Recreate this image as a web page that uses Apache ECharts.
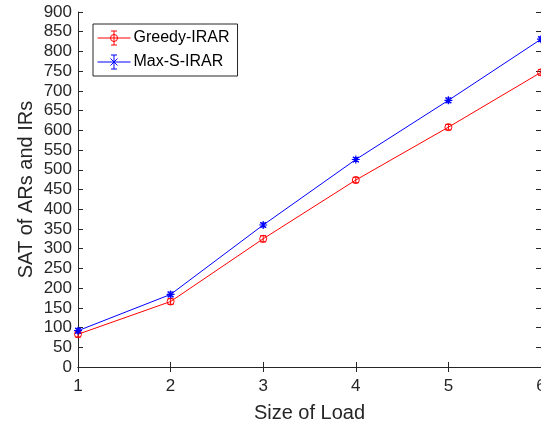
<!DOCTYPE html>
<html>
<head>
<meta charset="utf-8">
<script src="https://cdn.jsdelivr.net/npm/echarts@6/dist/echarts.min.js"></script>
<style>
  html, body { margin: 0; padding: 0; background: #fff; }
  #chart { width: 541px; height: 425px; }
</style>
</head>
<body>
<div id="chart"></div>
<script>
// Load sizes on the x axis
const loadSizes = [1, 2, 3, 4, 5, 6];
// Mean SAT of ARs and IRs per load size
const greedyIRAR = [83, 166, 325, 474, 608, 747];
const maxSIRAR = [92, 184, 360, 526, 676, 831];
// Half-width of the error bars
const greedyErr = [7, 7, 8, 7, 7, 7];
const maxSErr = [6, 6, 5, 5, 6, 6];
// Y tick range
const yTicks = { min: 0, max: 900, step: 50 };

const FONT = '"Liberation Sans", Arial, Helvetica, sans-serif';
const AX = '#262626';

const chart = echarts.init(document.getElementById('chart'), null, { renderer: 'canvas' });

function pairs(vals) { return loadSizes.map((x, i) => [x, vals[i]]); }
function errData(vals, err) { return loadSizes.map((x, i) => [x, vals[i] - err[i], vals[i] + err[i]]); }

function errorBarSeries(name, vals, err, color) {
  return {
    type: 'custom',
    name: name,
    data: errData(vals, err),
    z: 3,
    silent: true,
    renderItem: function (params, api) {
      const lo = api.coord([api.value(0), api.value(1)]);
      const hi = api.coord([api.value(0), api.value(2)]);
      const cap = 3;
      const st = { stroke: color, lineWidth: 1, fill: null };
      return {
        type: 'group',
        children: [
          { type: 'line', shape: { x1: lo[0], y1: lo[1], x2: hi[0], y2: hi[1] }, style: st },
          { type: 'line', shape: { x1: lo[0] - cap, y1: lo[1], x2: lo[0] + cap, y2: lo[1] }, style: st },
          { type: 'line', shape: { x1: hi[0] - cap, y1: hi[1], x2: hi[0] + cap, y2: hi[1] }, style: st }
        ]
      };
    }
  };
}

// legend glyphs: line + error bar + marker
const iconCircle = 'path://M0,7 L33,7 M16.5,0 L16.5,14 M13.5,0 L19.5,0 M13.5,14 L19.5,14 M20,7 A3.5,3.5 0 1,1 13,7 A3.5,3.5 0 1,1 20,7';
const iconStar = 'path://M0,7 L33,7 M16.5,0 L16.5,14 M13.5,0 L19.5,0 M13.5,14 L19.5,14 M13,3.5 L20,10.5 M13,10.5 L20,3.5';
const starSymbol = 'path://M5,0 L5,10 M0,5 L10,5 M1.5,1.5 L8.5,8.5 M1.5,8.5 L8.5,1.5';

const option = {
  backgroundColor: '#fff',
  animation: false,
  grid: { left: 78, top: 12, right: 0, bottom: 58, containLabel: false, outerBoundsMode: 'none' },
  legend: {
    left: 93, top: 24,
    orient: 'vertical',
    itemWidth: 33, itemHeight: 14,
    itemGap: 8,
    padding: [6, 8, 6, 4],
    borderColor: AX, borderWidth: 1,
    backgroundColor: '#fff',
    textStyle: { fontFamily: FONT, fontSize: 16, color: '#000', padding: [0, 0, 0, -2] },
    data: [
      { name: 'Greedy-IRAR', icon: iconCircle, itemStyle: { color: 'rgba(0,0,0,0)', borderColor: '#ff0000', borderWidth: 1 } },
      { name: 'Max-S-IRAR', icon: iconStar, itemStyle: { color: 'rgba(0,0,0,0)', borderColor: '#0000ff', borderWidth: 1 } }
    ]
  },
  xAxis: [
    {
      type: 'value', min: 1, max: 6, interval: 1,
      name: 'Size of Load', nameLocation: 'middle', nameGap: 36, nameMoveOverlap: false,
      nameTextStyle: { fontFamily: FONT, fontSize: 20, color: AX },
      axisLine: { lineStyle: { color: AX, width: 1 } },
      axisTick: { inside: true, length: 5, lineStyle: { color: AX } },
      axisLabel: { fontFamily: FONT, fontSize: 17, color: AX, margin: 11 },
      splitLine: { show: false }
    },
    {
      type: 'value', min: 1, max: 6, interval: 1, position: 'top',
      axisLine: { lineStyle: { color: AX, width: 1 } },
      axisTick: { inside: true, length: 5, lineStyle: { color: AX } },
      axisLabel: { show: false }, splitLine: { show: false }
    }
  ],
  yAxis: [
    {
      type: 'value', min: yTicks.min, max: yTicks.max, interval: yTicks.step,
      name: 'SAT of ARs and IRs', nameLocation: 'middle', nameGap: 42, nameMoveOverlap: false,
      nameTextStyle: { fontFamily: FONT, fontSize: 20, color: AX },
      axisLine: { show: true, lineStyle: { color: AX, width: 1 } },
      axisTick: { show: true, inside: true, length: 5, lineStyle: { color: AX } },
      axisLabel: { fontFamily: FONT, fontSize: 17, color: AX, margin: 6 },
      splitLine: { show: false }
    },
    {
      type: 'value', min: yTicks.min, max: yTicks.max, interval: yTicks.step, position: 'right',
      axisLine: { show: true, lineStyle: { color: AX, width: 1 } },
      axisTick: { show: true, inside: true, length: 5, lineStyle: { color: AX } },
      axisLabel: { show: false }, splitLine: { show: false }
    }
  ],
  series: [
    {
      name: 'Greedy-IRAR', type: 'line', data: pairs(greedyIRAR),
      symbol: 'circle', symbolSize: 7, showAllSymbol: true,
      lineStyle: { color: '#ff0000', width: 1 },
      itemStyle: { color: 'rgba(255,255,255,0)', borderColor: '#ff0000', borderWidth: 1 },
      z: 4
    },
    {
      name: 'Max-S-IRAR', type: 'line', data: pairs(maxSIRAR),
      symbol: starSymbol, symbolSize: 8, showAllSymbol: true,
      lineStyle: { color: '#0000ff', width: 1 },
      itemStyle: { color: '#0000ff', borderColor: '#0000ff', borderWidth: 1.2 },
      z: 4
    },
    errorBarSeries('Greedy-IRAR error', greedyIRAR, greedyErr, '#ff0000'),
    errorBarSeries('Max-S-IRAR error', maxSIRAR, maxSErr, '#0000ff')
  ]
};

chart.setOption(option);
</script>
</body>
</html>
